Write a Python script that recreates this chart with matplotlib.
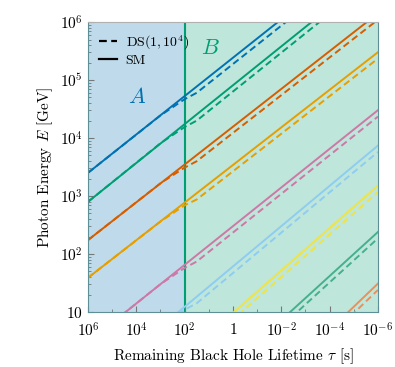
import matplotlib
matplotlib.use("Agg")
import matplotlib.pyplot as plt
from matplotlib.ticker import LogLocator, NullFormatter
import numpy as np

plt.rcParams['font.family'] = 'serif'
plt.rcParams['font.serif'] = ['cmr10', 'DejaVu Serif']
plt.rcParams['mathtext.fontset'] = 'cm'
plt.rcParams['axes.formatter.use_mathtext'] = True

# remaining lifetime (s) where the lines are read
tau_sm = [1e6, 1e-6]
tau_ds = [1e6, 1e3, 1e2, 10**1.5, 1e-6]

# log10 of photon energy in GeV (values outside the box are extrapolated)
sm_blue = [3.40, 7.37]
sm_green = [2.90, 6.92]
sm_vermilion = [2.24, 6.15]
sm_orange = [1.59, 5.48]
sm_pink = [0.48, 4.48]
sm_skyblue = [-0.30, 3.87]
sm_yellow = [-1.21, 3.18]
sm_teal = [-2.18, 2.38]
sm_salmon = [-3.31, 1.49]

ds_blue = [3.40, 4.39, 4.67, 4.78, 7.26]
ds_green = [2.90, 3.91, 4.19, 4.30, 6.81]
ds_vermilion = [2.24, 3.22, 3.49, 3.60, 6.04]
ds_orange = [1.59, 2.56, 2.84, 2.94, 5.37]
ds_pink = [0.48, 1.48, 1.76, 1.87, 4.37]
ds_skyblue = [-0.30, 0.74, 1.04, 1.15, 3.76]
ds_yellow = [-1.21, -0.11, 0.20, 0.32, 3.07]
ds_teal = [-2.18, -1.04, -0.71, -0.58, 2.27]
ds_salmon = [-3.31, -2.11, -1.76, -1.62, 1.38]

sm_lines = [sm_blue, sm_green, sm_vermilion, sm_orange, sm_pink,
            sm_skyblue, sm_yellow, sm_teal, sm_salmon]
ds_lines = [ds_blue, ds_green, ds_vermilion, ds_orange, ds_pink,
            ds_skyblue, ds_yellow, ds_teal, ds_salmon]
colors = ['#0072B2', '#009E73', '#D55E00', '#E69F00', '#CC79A7',
          '#8ecdf0', '#F0E442', '#45b08c', '#e8915c']

xticks = [1e6, 1e4, 1e2, 1, 1e-2, 1e-4, 1e-6]
xtick_labels = ['$10^{6}$', '$10^{4}$', '$10^{2}$', '$1$', '$10^{-2}$', '$10^{-4}$', '$10^{-6}$']
yticks = [1e1, 1e2, 1e3, 1e4, 1e5, 1e6]
ytick_labels = ['$10$', '$10^{2}$', '$10^{3}$', '$10^{4}$', '$10^{5}$', '$10^{6}$']

fig = plt.figure(figsize=(3.95, 3.67), dpi=100)
ax = fig.add_axes([0.2228, 0.1499, 0.734, 0.790])

ax.axvspan(1e6, 1e2, color='#0072B2', alpha=0.25, lw=0, zorder=0)
ax.axvspan(1e2, 1e-6, color='#009E73', alpha=0.25, lw=0, zorder=0)
ax.axvline(1e2, color='#009E73', lw=1.5, zorder=1)

for sm, ds, c in zip(sm_lines, ds_lines, colors):
    ax.plot(tau_sm, 10 ** np.array(sm), color=c, lw=1.4, zorder=2)
    ax.plot(tau_ds, 10 ** np.array(ds), color=c, lw=1.4, ls=(0, (3.5, 2)), zorder=2)

ax.plot([], [], color='k', lw=1.6, ls=(0, (3.5, 2)), label='DS$(1,10^4)$')
ax.plot([], [], color='k', lw=1.6, label='SM')
ax.legend(loc='upper left', frameon=False, fontsize=10, handlelength=1.3,
          handletextpad=0.6, labelspacing=0.2, borderaxespad=0.4)

ax.text(10**3.97, 10**4.71, '$A$', color='#0072B2', fontsize=16, ha='center', va='center')
ax.text(10**0.95, 10**5.55, '$B$', color='#009E73', fontsize=16, ha='center', va='center')

ax.set_xscale('log')
ax.set_yscale('log')
ax.set_xlim(1e6, 1e-6)
ax.set_ylim(10, 1e6)
ax.set_xticks(xticks)
ax.set_xticklabels(xtick_labels)
ax.set_xticks([1e5, 1e3, 1e1, 1e-1, 1e-3, 1e-5], minor=True)
ax.set_xticklabels([], minor=True)
ax.set_yticks(yticks)
ax.set_yticklabels(ytick_labels)
ax.yaxis.set_minor_locator(LogLocator(base=10, subs=np.arange(2, 10), numticks=20))
ax.yaxis.set_minor_formatter(NullFormatter())
ax.tick_params(which='both', direction='in', labelsize=11, colors='#777777', labelcolor='black')
ax.tick_params(which='major', length=4)
ax.tick_params(which='minor', length=2.5)
ax.tick_params(axis='x', which='major', pad=7)

for side in ['left', 'bottom', 'right']:
    ax.spines[side].set_color('#5f8f96')
ax.spines['top'].set_color('#b0b0b0')

ax.set_xlabel(r'Remaining Black Hole Lifetime $\tau$ [s]', fontsize=11, labelpad=5)
ax.set_ylabel(r'Photon Energy $E$ [GeV]', fontsize=11, labelpad=4)

fig.savefig('out.png', dpi=100)
